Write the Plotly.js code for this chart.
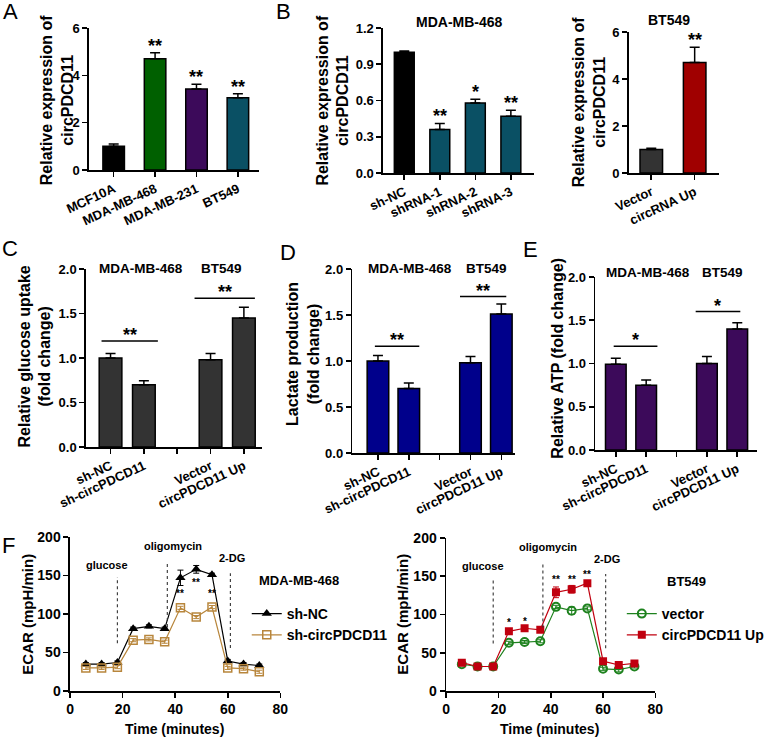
<!DOCTYPE html>
<html><head><meta charset="utf-8">
<script src="https://cdn.plot.ly/plotly-3.0.1.min.js"></script>
<style>html,body{margin:0;padding:0;background:#fff}#chart{width:769px;height:738px}</style>
</head><body><div id="chart"></div>
<script>
// ---------- DATA ----------
// Panel A
const aLabels = ['MCF10A','MDA-MB-468','MDA-MB-231','BT549'];
const aValues = [1.0, 4.7, 3.42, 3.05];
const aErrors = [0.1, 0.25, 0.2, 0.17];
const aStars  = ['', '**', '**', '**'];
// Panel B left (MDA-MB-468)
const b1Labels = ['sh-NC','shRNA-1','shRNA-2','shRNA-3'];
const b1Values = [1.0, 0.36, 0.58, 0.47];
const b1Errors = [0.01, 0.05, 0.03, 0.05];
const b1Stars  = ['', '**', '*', '**'];
// Panel B right (BT549)
const b2Labels = ['Vector','circRNA Up'];
const b2Values = [1.0, 4.7];
const b2Errors = [0.05, 0.65];
const b2Stars  = ['', '**'];
// Panels C, D, E
const cdeLabels = ['sh-NC','sh-circPDCD11',' ','Vector','circPDCD11 Up'];
const cValues = [1.0, 0.7, null, 0.98, 1.45];
const cErrors = [0.05, 0.045, null, 0.07, 0.12];
const dValues = [1.0, 0.7, null, 0.98, 1.51];
const dErrors = [0.06, 0.06, null, 0.07, 0.11];
const eValues = [0.99, 0.75, null, 1.0, 1.4];
const eErrors = [0.07, 0.06, null, 0.08, 0.07];
const cSigY = [1.19, 1.67]; const cSigText = ['**','**'];
const dSigY = [1.16, 1.70]; const dSigText = ['**','**'];
const eSigY = [1.20, 1.60]; const eSigText = ['*','*'];
const groupTitles = ['MDA-MB-468','BT549'];
// Panel F
const fTime     = [6,12,18,24,30,36,42,48,54,60,66,72];
const shNC      = [35,35,37,81,84,81,147,158,151,39,35,33];
const shNCErr   = [2,2,2,2,2,2,10,5,2,2,2,2];
const shCirc    = [30,30,31,66,67,64,108,96,109,30,29,25];
const shCircErr = [2,2,2,2,2,2,2,2,2,2,2,2];
const vecF      = [35,32,32,63,64,65,110,105,108,29,28,32];
const vecErr    = [2,2,2,2,2,2,2,5,2,2,3,2];
const upF       = [37,32,32,78,82,80,129,133,141,39,34,36];
const upErr     = [2,2,2,2,2,2,7,5,2,3,3,3];
const injTimes  = [18,37,61];
const injLabels = ['glucose','oligomycin','2-DG'];
const f1StarT = [42,48,54]; const f1StarY = [127,141,127]; const f1StarText = ['**','**','**'];
const f2StarT = [24,30,42,48,54]; const f2StarY = [90,91,146,146,152]; const f2StarText = ['*','*','**','**','**'];

// ---------- LAYOUT HELPERS ----------
const W = 769, H = 738;
const FONT = 'Liberation Sans, Arial, Helvetica, sans-serif';
const BOLD = (s) => ({family: FONT, size: s, color: '#000', weight: 'bold'});
function base() {
  return {showline:true, linecolor:'#000', linewidth:1.6, ticks:'outside', ticklen:5, tickwidth:1.6,
          tickcolor:'#000', showgrid:false, zeroline:false, fixedrange:true, tickfont: BOLD(13)};
}
function xCat(l, r, anchor, labels, range) {
  return Object.assign(base(), {domain:[l/W, r/W], anchor, type:'category', categoryorder:'array',
    categoryarray: labels, range, tickangle:-25, tickfont: BOLD(13)});
}
function xLin(l, r, anchor, range, dtick) {
  return Object.assign(base(), {domain:[l/W, r/W], anchor, range, dtick, tickfont: BOLD(14)});
}
function yLin(top, bottom, anchor, range, dtick, fmt, fs) {
  const o = Object.assign(base(), {domain:[1-bottom/H, 1-top/H], anchor, range, dtick, tickfont: BOLD(fs||13)});
  if (fmt) o.tickformat = fmt;
  return o;
}
function barTrace(labels, values, errs, colors, xa, ya, width) {
  return {type:'bar', x:labels, y:values, xaxis:xa, yaxis:ya, width,
    marker:{color:colors, line:{color:'#000', width:1.5}},
    error_y:{type:'data', symmetric:false, array:errs, arrayminus:errs.map(()=>0), color:'#000', thickness:1.5, width:5},
    showlegend:false, hoverinfo:'skip'};
}

const traces = [
  barTrace(aLabels, aValues, aErrors, ['#000000','#006000','#3c0a5a','#0a5064'], 'x', 'y', 0.52),
  barTrace(b1Labels, b1Values, b1Errors, ['#000000','#0a5064','#0a5064','#0a5064'], 'x2', 'y2', 0.56),
  barTrace(b2Labels, b2Values, b2Errors, ['#333333','#a00000'], 'x3', 'y3', 0.52),
  barTrace(cdeLabels, cValues, cErrors, '#333333', 'x4', 'y4', 0.68),
  barTrace(cdeLabels, dValues, dErrors, '#00008b', 'x5', 'y5', 0.7),
  barTrace(cdeLabels, eValues, eErrors, '#3c0a5a', 'x6', 'y6', 0.68),
  {type:'scatter', mode:'lines+markers', name:'sh-NC', x:fTime, y:shNC, xaxis:'x7', yaxis:'y7', legend:'legend',
   line:{color:'#000', width:1.2}, marker:{symbol:'triangle-up', size:9, color:'#000'},
   error_y:{type:'data', array:shNCErr, color:'#000', thickness:1, width:3}, hoverinfo:'skip'},
  {type:'scatter', mode:'lines+markers', name:'sh-circPDCD11', x:fTime, y:shCirc, xaxis:'x7', yaxis:'y7', legend:'legend',
   line:{color:'#b8863c', width:1.2}, marker:{symbol:'square-open', size:8, color:'#b8863c', line:{width:1.5}},
   error_y:{type:'data', array:shCircErr, color:'#b8863c', thickness:1, width:3}, hoverinfo:'skip'},
  {type:'scatter', mode:'lines+markers', name:'vector', x:fTime, y:vecF, xaxis:'x8', yaxis:'y8', legend:'legend2',
   line:{color:'#1e821e', width:1.2}, marker:{symbol:'circle-open', size:8, color:'#1e821e', line:{width:2}},
   error_y:{type:'data', array:vecErr, color:'#1e821e', thickness:1, width:3}, hoverinfo:'skip'},
  {type:'scatter', mode:'lines+markers', name:'circPDCD11 Up', x:fTime, y:upF, xaxis:'x8', yaxis:'y8', legend:'legend2',
   line:{color:'#c0000f', width:1.2}, marker:{symbol:'square', size:8, color:'#c0000f'},
   error_y:{type:'data', array:upErr, color:'#c0000f', thickness:1, width:3}, hoverinfo:'skip'}
];

// ---------- ANNOTATIONS ----------
const ann = [];
function paperText(text, x, y, size, opts) {
  ann.push(Object.assign({xref:'paper', yref:'paper', x:x/W, y:1-y/H, text, showarrow:false,
    font: BOLD(size), xanchor:'center', yanchor:'middle'}, opts||{}));
}
// panel letters
[['A',11,12],['B',287,11],['C',10,248],['D',292,252],['E',537,250],['F',9,545]].forEach(p =>
  paperText(p[0], p[1], p[2], 22, {font:{family:FONT, size:22, color:'#000'}}));
// y-axis titles
paperText('Relative expression of<br>circPDCD11', 58, 100, 16, {textangle:-90});
paperText('Relative expression of<br>circPDCD11', 337, 100, 16, {textangle:-90});
paperText('Relative expression of<br>circPDCD11', 597, 102, 16, {textangle:-90});
paperText('Relative glucose uptake<br>(fold change)', 35, 357, 16, {textangle:-90});
paperText('Lactate production<br>(fold change)', 307, 354, 16, {textangle:-90});
paperText('Relative ATP (fold change)', 564, 358, 16, {textangle:-90});
paperText('ECAR (mpH/min)', 27, 614, 15, {textangle:-90});
paperText('ECAR (mpH/min)', 407, 614, 15, {textangle:-90});
paperText('Time (minutes)', 177, 729, 14);
paperText('Time (minutes)', 557, 729, 14);
// panel titles
paperText('MDA-MB-468', 466, 22, 14);
paperText('BT549', 678, 20, 14);
paperText(groupTitles[0], 143, 268, 13.5); paperText(groupTitles[1], 224, 268, 13.5);
paperText(groupTitles[0], 415, 268, 13.5); paperText(groupTitles[1], 493, 268, 13.5);
paperText(groupTitles[0], 657, 272, 13.5); paperText(groupTitles[1], 732, 272, 13.5);
paperText('MDA-MB-468', 303, 580, 13);
paperText('BT549', 696, 581, 13);

// bar stars
function barStars(labels, values, errs, stars, xa, ya) {
  labels.forEach((l, i) => { if (stars[i]) ann.push({xref:xa, yref:ya, x:l, y:values[i]+errs[i], text:stars[i],
    showarrow:false, yanchor:'bottom', yshift:-5, font:BOLD(18)}); });
}
barStars(aLabels, aValues, aErrors, aStars, 'x', 'y');
barStars(b1Labels, b1Values, b1Errors, b1Stars, 'x2', 'y2');
barStars(b2Labels, b2Values, b2Errors, b2Stars, 'x3', 'y3');

// significance lines for C/D/E
const shapes = [];
function sigLines(sigY, sigText, spans, xa, ya) {
  sigY.forEach((yv, i) => {
    const [x0, x1] = spans[i];
    shapes.push({type:'line', xref:xa, yref:ya, x0, x1, y0:yv, y1:yv, line:{color:'#000', width:1.5}});
    ann.push({xref:xa, yref:ya, x:(x0+x1)/2, y:yv, text:sigText[i], showarrow:false, yanchor:'bottom', yshift:-6, font:BOLD(18)});
  });
}
sigLines(cSigY, cSigText, [[-0.27,1.42],[2.52,4.33]], 'x4', 'y4');
sigLines(dSigY, dSigText, [[-0.1,1.34],[2.66,4.16]], 'x5', 'y5');
sigLines(eSigY, eSigText, [[-0.07,1.37],[2.63,4.1]], 'x6', 'y6');

// F: injection lines and labels, stars
const injY = [[62,148],[83,167],[56,153]];
const injLabelPos = [[14,164],[39,188],[61.6,173]];
['x7','x8'].forEach((xa, k) => {
  const ya = k === 0 ? 'y7' : 'y8';
  injTimes.forEach((t, i) => {
    shapes.push({type:'line', xref:xa, yref:ya, x0:t, x1:t, y0:injY[i][0], y1:injY[i][1],
      line:{color:'#333', width:1.1, dash:'dot'}});
    ann.push({xref:xa, yref:ya, x:injLabelPos[i][0], y:injLabelPos[i][1], text:injLabels[i], showarrow:false, font:BOLD(11)});
  });
});
f1StarT.forEach((t,i) => ann.push({xref:'x7', yref:'y7', x:t, y:f1StarY[i], text:f1StarText[i], showarrow:false, font:BOLD(10)}));
f2StarT.forEach((t,i) => ann.push({xref:'x8', yref:'y8', x:t, y:f2StarY[i], text:f2StarText[i], showarrow:false, font:BOLD(10)}));

const legendBase = {xanchor:'left', yanchor:'top', bgcolor:'rgba(0,0,0,0)', font:BOLD(14), itemwidth:30, tracegroupgap:0};

const layout = {
  width: W, height: H, margin:{l:0, r:0, t:0, b:0}, paper_bgcolor:'#fff', plot_bgcolor:'#fff',
  font:{family:FONT, color:'#000'}, bargap:0,
  xaxis:  xCat(90, 262, 'y', aLabels, [-0.6, 3.5]),
  yaxis:  yLin(28, 170, 'x', [0, 6], 2),
  xaxis2: xCat(388, 541, 'y2', b1Labels, [-0.6, 3.65]),
  yaxis2: yLin(28, 173, 'x2', [0, 1.2], 0.3, '.1f'),
  xaxis3: xCat(637, 728, 'y3', b2Labels, [-0.52, 1.55]),
  yaxis3: yLin(32, 173, 'x3', [0, 6], 2),
  xaxis4: xCat(87, 265, 'y4', cdeLabels, [-0.74, 4.53]),
  yaxis4: yLin(269, 447, 'x4', [0, 2], 0.5, '.1f'),
  xaxis5: xCat(357, 522, 'y5', cdeLabels, [-0.83, 4.45]),
  yaxis5: yLin(269, 453, 'x5', [0, 2], 0.5, '.1f'),
  xaxis6: xCat(603, 767, 'y6', cdeLabels, [-0.68, 4.65]),
  yaxis6: yLin(277, 450, 'x6', [0, 2], 0.5, '.1f'),
  xaxis7: xLin(71, 284, 'y7', [0, 80], 20),
  yaxis7: yLin(537, 691, 'x7', [0, 200], 50, null, 14),
  xaxis8: xLin(452, 664, 'y8', [0, 80], 20),
  yaxis8: yLin(538, 691, 'x8', [0, 200], 50, null, 14),
  legend:  Object.assign({x:250/W, y:1-598/H}, legendBase),
  legend2: Object.assign({x:630/W, y:1-598/H}, legendBase),
  annotations: ann, shapes
};

Plotly.newPlot('chart', traces, layout, {displayModeBar:false, staticPlot:true});
</script>
</body></html>
